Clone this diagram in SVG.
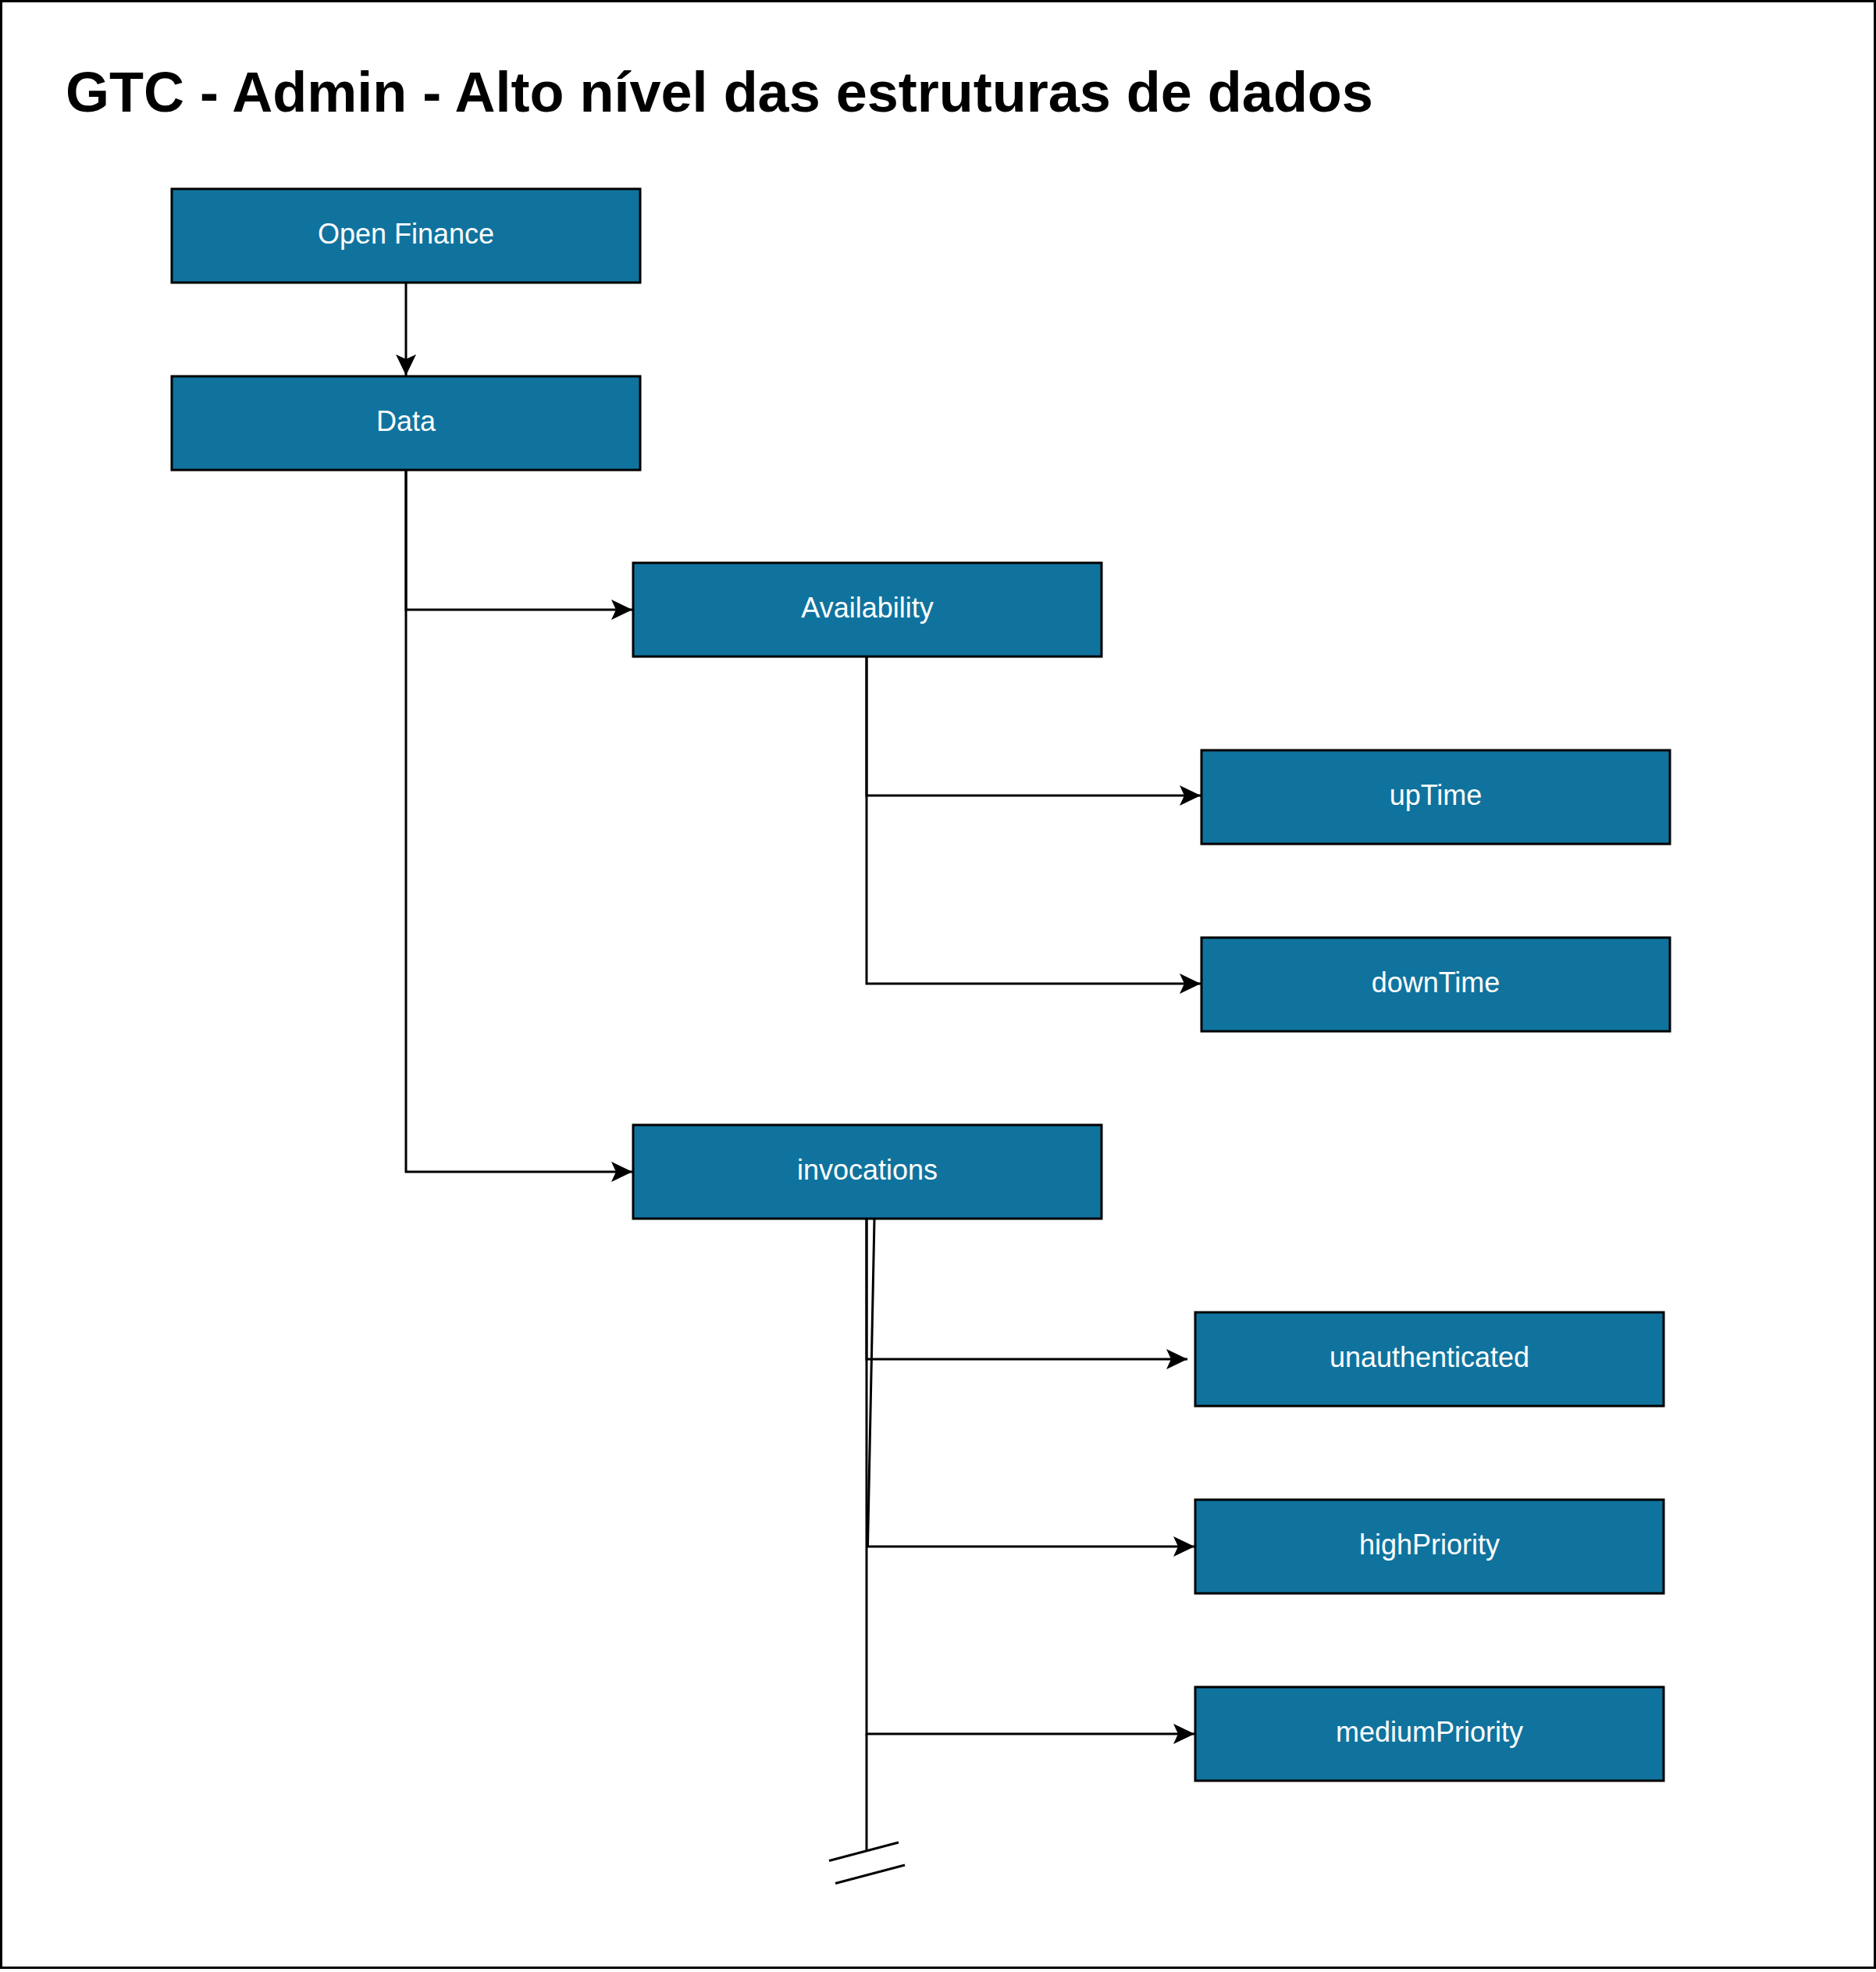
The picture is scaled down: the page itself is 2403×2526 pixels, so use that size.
<svg xmlns="http://www.w3.org/2000/svg" width="2403" height="2526" viewBox="0 0 2403 2526">
<style>
.box{fill:#10739E;stroke:#000;stroke-width:3}
.lbl{fill:#fff;font-family:"Liberation Sans",Arial,sans-serif;font-size:36px;text-anchor:middle}
.edge{fill:none;stroke:#000;stroke-width:3}
.title{fill:#000;font-family:"Liberation Sans",Arial,sans-serif;font-size:72px;font-weight:bold}
</style>
<defs>
<marker id="arr" markerUnits="userSpaceOnUse" viewBox="0 0 27 26" markerWidth="27" markerHeight="26" refX="27" refY="13" orient="auto">
<path d="M27,13 L0,0 L6,13 L0,26 Z" fill="#000"/>
</marker>
</defs>
<rect x="0" y="0" width="2403" height="2526" fill="#fff"/>
<rect x="1.5" y="1.5" width="2400" height="2519" fill="none" stroke="#000" stroke-width="3"/>
<text class="title" x="84" y="143">GTC - Admin - Alto nível das estruturas de dados</text>
<g id="connectors">
<path class="edge" d="M520,362 V481" marker-end="url(#arr)"/>
<path class="edge" d="M520,602 V781 H810" marker-end="url(#arr)"/>
<path class="edge" d="M520,602 V1501 H810" marker-end="url(#arr)"/>
<path class="edge" d="M1110,842 V1019 H1538" marker-end="url(#arr)"/>
<path class="edge" d="M1110,842 V1260 H1538" marker-end="url(#arr)"/>
<path class="edge" d="M1110,1562 V1741 H1521" marker-end="url(#arr)"/>
<path class="edge" d="M1120,1562 L1111.5,1981 H1530" marker-end="url(#arr)"/>
<path class="edge" d="M1110,1562 V2221 H1530" marker-end="url(#arr)"/>
<path class="edge" d="M1110,2221 V2371"/>
<path class="edge" d="M1062,2383.5 L1151,2360"/>
<path class="edge" d="M1070,2412.5 L1159,2389"/>
</g>
<g id="node-open-finance"><rect class="box" x="220" y="242" width="600" height="120"/><text class="lbl" x="520" y="312">Open Finance</text></g>
<g id="node-data"><rect class="box" x="220" y="482" width="600" height="120"/><text class="lbl" x="520" y="552">Data</text></g>
<g id="node-availability"><rect class="box" x="811" y="721" width="600" height="120"/><text class="lbl" x="1111" y="791">Availability</text></g>
<g id="node-uptime"><rect class="box" x="1539" y="961" width="600" height="120"/><text class="lbl" x="1839" y="1031">upTime</text></g>
<g id="node-downtime"><rect class="box" x="1539" y="1201" width="600" height="120"/><text class="lbl" x="1839" y="1271">downTime</text></g>
<g id="node-invocations"><rect class="box" x="811" y="1441" width="600" height="120"/><text class="lbl" x="1111" y="1511">invocations</text></g>
<g id="node-unauthenticated"><rect class="box" x="1531" y="1681" width="600" height="120"/><text class="lbl" x="1831" y="1751">unauthenticated</text></g>
<g id="node-highpriority"><rect class="box" x="1531" y="1921" width="600" height="120"/><text class="lbl" x="1831" y="1991">highPriority</text></g>
<g id="node-mediumpriority"><rect class="box" x="1531" y="2161" width="600" height="120"/><text class="lbl" x="1831" y="2231">mediumPriority</text></g>
</svg>
